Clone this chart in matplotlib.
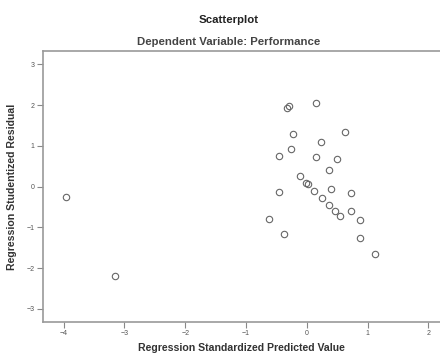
import matplotlib
matplotlib.use("Agg")
import matplotlib.pyplot as plt

plt.rcParams['font.family'] = ['Liberation Sans', 'DejaVu Sans']

# standardized predicted value vs studentized residual
pred = [-3.96, -3.15,
        -0.32, -0.30, 0.15, -0.23, 0.63, 0.235, -0.26, -0.46, 0.15, 0.49,
        0.37, -0.11, -0.01, 0.02, 0.11, 0.39, -0.46, 0.73, 0.25, 0.37,
        0.47, 0.54, 0.73, -0.62, 0.88, -0.37, 0.88, 1.12]
resid = [-0.25, -2.18,
         1.94, 1.97, 2.05, 1.30, 1.34, 1.09, 0.93, 0.76, 0.74, 0.67,
         0.40, 0.27, 0.08, 0.06, -0.10, -0.06, -0.12, -0.15, -0.28, -0.45,
         -0.60, -0.72, -0.59, -0.80, -0.82, -1.16, -1.26, -1.64]
xticks = [-4, -3, -2, -1, 0, 1, 2]
yticks = [-3, -2, -1, 0, 1, 2, 3]

fig = plt.figure(figsize=(4.4, 3.54), dpi=100)
ax = fig.add_axes([0.0977, 0.0904, 0.9023, 0.7655])

ax.plot(pred, resid, linestyle='none', marker='o', markersize=4.6,
        markerfacecolor='none', markeredgecolor='#666666', markeredgewidth=0.8)

ax.set_xlim(-4.34, 2.19)
ax.set_ylim(-3.32, 3.33)
ax.set_xticks(xticks)
ax.set_yticks(yticks)
ax.tick_params(direction='out', length=4, width=0.8, color='#888888',
               labelsize=5, labelcolor='#555555', pad=2)

for side in ['left', 'top', 'bottom']:
    ax.spines[side].set_color('#999999')
    ax.spines[side].set_linewidth(1.2)
ax.spines['right'].set_visible(False)

ax.set_xlabel('Regression Standardized Predicted Value', fontsize=7.6,
              fontweight='bold', color='#333333', labelpad=4)
ax.set_ylabel('Regression Studentized Residual', fontsize=7.6,
              fontweight='bold', color='#333333', labelpad=7)

fig.text(0.519, 0.9435, 'Scatterplot', ha='center', va='center',
         fontsize=8.2, fontweight='bold', color='#222222')
fig.text(0.519, 0.881, 'Dependent Variable: Performance', ha='center',
         va='center', fontsize=8.2, fontweight='bold', color='#444444')

fig.savefig('out.png', dpi=100)
